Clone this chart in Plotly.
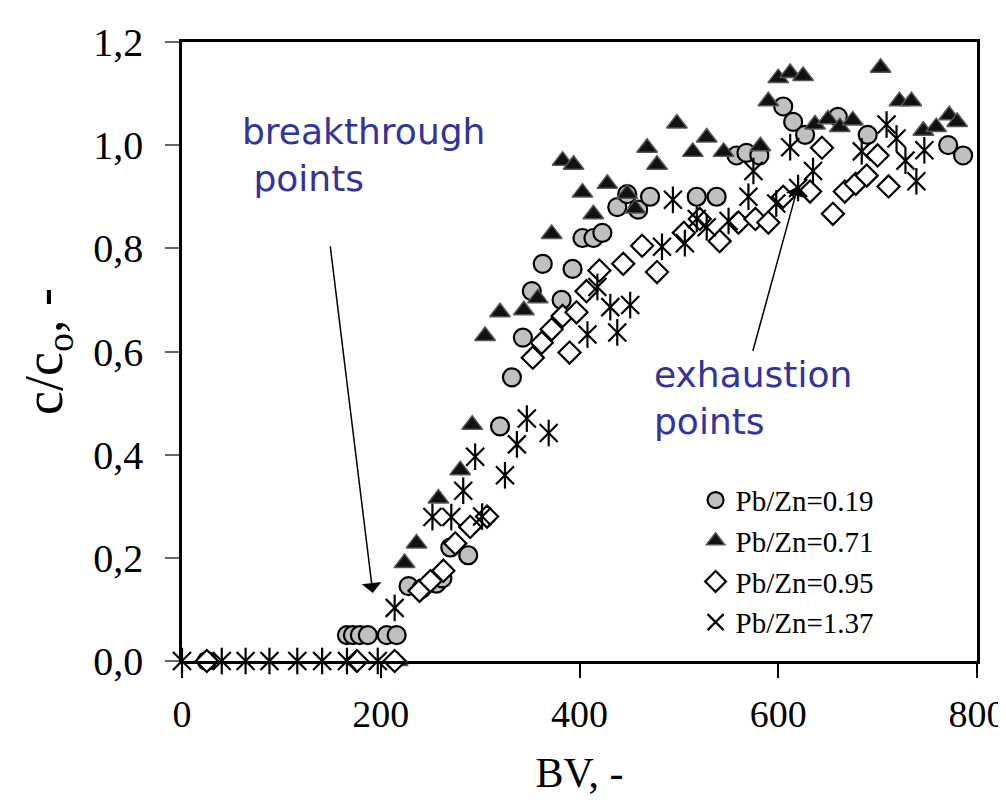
import plotly.graph_objects as go

# ---- data (BV, c/c0) ----
circ_x = [25, 166, 172, 179, 187, 206, 216, 228, 241, 256, 262, 270, 288, 320, 332, 343, 352, 363, 382, 393,
          403, 414, 423, 438, 448, 459, 471, 518, 538, 558, 568, 581, 605, 615, 627, 660, 690, 771, 786]
circ_y = [0.0, 0.05, 0.05, 0.05, 0.05, 0.05, 0.05, 0.145, 0.14, 0.15, 0.16, 0.22, 0.205, 0.455, 0.55, 0.627, 0.717, 0.77, 0.70, 0.76,
          0.82, 0.82, 0.83, 0.88, 0.905, 0.875, 0.90, 0.90, 0.90, 0.98, 0.985, 0.98, 1.075, 1.045, 1.02, 1.055, 1.02, 1.0, 0.98]

tri_x = [217, 224, 236, 258, 280, 292, 305, 320, 344, 358, 372, 383, 394, 403, 414, 428, 448, 456, 468, 478,
         498, 514, 528, 545, 582, 590, 600, 612, 625, 637, 650, 662, 675, 703, 722, 734, 746, 759, 772, 780]
tri_y = [0.0, 0.19, 0.228, 0.315, 0.37, 0.458, 0.63, 0.676, 0.68, 0.703, 0.828, 0.97, 0.962, 0.908, 0.866, 0.925, 0.906, 0.877, 0.995, 0.962,
         1.042, 0.987, 1.015, 0.987, 0.998, 1.085, 1.13, 1.14, 1.134, 1.04, 1.05, 1.035, 1.048, 1.15, 1.085, 1.085, 1.028, 1.035, 1.058, 1.045]

dia_x = [25, 176, 214, 239, 250, 263, 275, 290, 307, 353, 362, 372, 383, 390, 397, 407, 420, 444, 463, 478,
         505, 521, 541, 560, 577, 590, 605, 632, 644, 655, 667, 678, 689, 700, 711]
dia_y = [0.0, 0.0, 0.0, 0.136, 0.155, 0.175, 0.228, 0.26, 0.28, 0.588, 0.617, 0.643, 0.669, 0.598, 0.676, 0.717, 0.757, 0.77, 0.805, 0.754,
         0.83, 0.857, 0.814, 0.85, 0.857, 0.85, 0.90, 0.91, 0.995, 0.867, 0.91, 0.925, 0.941, 0.98, 0.92]

ast_x = [0, 40, 64, 88, 116, 141, 166, 197, 214, 252, 271, 283, 295, 302, 325, 337, 347, 369, 408, 418,
         431, 438, 451, 483, 494, 506, 518, 528, 550, 570, 575, 598, 612, 620, 635, 684, 709, 719, 728, 739, 747]
ast_y = [0.0, 0.0, 0.0, 0.0, 0.0, 0.0, 0.0, 0.0, 0.103, 0.279, 0.279, 0.33, 0.396, 0.28, 0.36, 0.42, 0.47, 0.442, 0.633, 0.725,
         0.686, 0.637, 0.69, 0.803, 0.894, 0.81, 0.857, 0.841, 0.853, 0.90, 0.95, 0.887, 0.996, 0.917, 0.95, 0.988, 1.04, 1.013, 0.97, 0.93, 0.99]

names = ["Pb/Zn=0.19", "Pb/Zn=0.71", "Pb/Zn=0.95", "Pb/Zn=1.37"]
x_ticks = [0, 200, 400, 600, 800]
y_ticks = [0.0, 0.2, 0.4, 0.6, 0.8, 1.0, 1.2]

SERIF = "Liberation Serif, Times New Roman, serif"
SANS = "DejaVu Sans, Verdana, sans-serif"
BLUE = "#333399"

fig = go.Figure()
fig.add_trace(go.Scatter(x=circ_x, y=circ_y, mode="markers", name=names[0], cliponaxis=False,
                         marker=dict(symbol="circle", size=18, color="#C0C0C0", line=dict(color="black", width=2.2))))
fig.add_trace(go.Scatter(x=tri_x, y=tri_y, mode="markers", name=names[1], cliponaxis=False,
                         marker=dict(symbol="triangle-up", size=18, color="#111111", line=dict(color="#555555", width=1.5))))
fig.add_trace(go.Scatter(x=dia_x, y=dia_y, mode="markers", name=names[2], cliponaxis=False,
                         marker=dict(symbol="diamond", size=17, color="white", line=dict(color="black", width=2.2))))
fig.add_trace(go.Scatter(x=ast_x, y=ast_y, mode="markers", name=names[3], cliponaxis=False, legendgroup="ast",
                         marker=dict(symbol="x-thin-open", size=18, color="black", line=dict(color="black", width=2.2))))
fig.add_trace(go.Scatter(x=ast_x, y=ast_y, mode="markers", name=names[3], cliponaxis=False, legendgroup="ast",
                         showlegend=False,
                         marker=dict(symbol="line-ns-open", size=19, color="black", line=dict(color="black", width=2.2))))

# annotations
fig.add_annotation(x=58, y=1.07, xref="x", yref="y", xanchor="left", yanchor="top", align="left",
                   text="breakthrough<br>&nbsp;points", showarrow=False,
                   font=dict(family=SANS, size=36, color=BLUE))
fig.add_annotation(x=473, y=0.60, xref="x", yref="y", xanchor="left", yanchor="top", align="left",
                   text="exhaustion<br>points", showarrow=False,
                   font=dict(family=SANS, size=36, color=BLUE))
fig.add_annotation(x=192, y=0.132, ax=149, ay=0.807, xref="x", yref="y", axref="x", ayref="y",
                   text="", showarrow=True, arrowhead=1, arrowsize=2.2, arrowwidth=1.5, arrowcolor="black", standoff=0)
fig.add_annotation(x=620, y=0.921, ax=574, ay=0.598, xref="x", yref="y", axref="x", ayref="y",
                   text="", showarrow=True, arrowhead=1, arrowsize=2.2, arrowwidth=1.5, arrowcolor="black", standoff=0)

fig.update_xaxes(range=[0, 800], tickvals=x_ticks, ticks="outside", ticklen=14, tickwidth=1.5, tickcolor="black",
                 showline=True, linecolor="black", linewidth=2.5, mirror=True, showgrid=False, zeroline=False,
                 automargin=False, ticklabeloverflow="allow",
                 tickfont=dict(family=SERIF, size=38, color="black"), ticklabelstandoff=4,
                 title=dict(text="BV, -", font=dict(family=SERIF, size=42, color="black"), standoff=24))
fig.update_yaxes(range=[0, 1.2], tickvals=y_ticks, tickformat=".1f", ticks="outside", ticklen=14, tickwidth=1.5,
                 tickcolor="#666666", showline=True, linecolor="black", linewidth=2.5, mirror=True, showgrid=False,
                 zeroline=False, automargin=False,
                 tickfont=dict(family=SERIF, size=40, color="black"), ticklabelstandoff=14,
                 title=dict(text="c/c<sub>o</sub>, -", font=dict(family=SERIF, size=54, color="black"), standoff=14))

# the page adds an 8px body margin, so the figure is 8px smaller than the window
fig.update_layout(width=998, height=803, separators=", ",
                  margin=dict(l=174, r=29, t=34, b=150, autoexpand=False),
                  paper_bgcolor="white", plot_bgcolor="white",
                  showlegend=True,
                  legend=dict(x=0.646, y=0.301, xanchor="left", yanchor="top", bgcolor="rgba(0,0,0,0)",
                              font=dict(family=SERIF, size=29, color="black"), tracegroupgap=0,
                              itemwidth=30))

fig.write_html("out.html")
